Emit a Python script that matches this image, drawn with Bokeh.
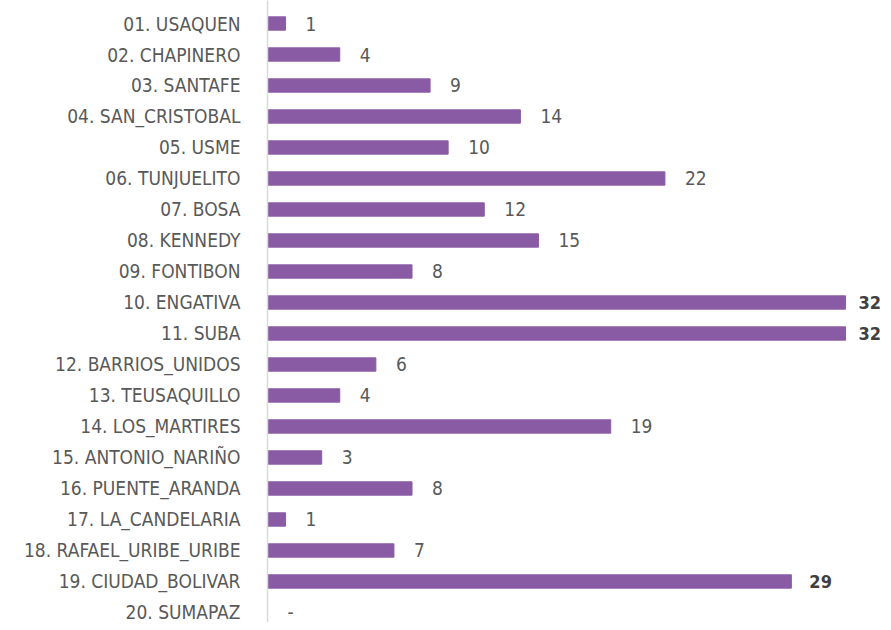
from bokeh.plotting import figure
from bokeh.models import Range1d, FixedTicker, ColumnDataSource
from bokeh.core.properties import value
from bokeh.embed import file_html
from bokeh.resources import INLINE

localidades = ["01. USAQUEN", "02. CHAPINERO", "03. SANTAFE", "04. SAN_CRISTOBAL", "05. USME",
               "06. TUNJUELITO", "07. BOSA", "08. KENNEDY", "09. FONTIBON", "10. ENGATIVA",
               "11. SUBA", "12. BARRIOS_UNIDOS", "13. TEUSAQUILLO", "14. LOS_MARTIRES",
               "15. ANTONIO_NARIÑO", "16. PUENTE_ARANDA", "17. LA_CANDELARIA",
               "18. RAFAEL_URIBE_URIBE", "19. CIUDAD_BOLIVAR", "20. SUMAPAZ"]
casos = [1, 4, 9, 14, 10, 22, 12, 15, 8, 32, 32, 6, 4, 19, 3, 8, 1, 7, 29, 0]

FONT = "'DejaVu Sans Condensed', Roboto"

idx = list(range(len(localidades)))
labels = [str(v) if v > 0 else "-" for v in casos]
bold = [v >= 29 for v in casos]

src_norm = ColumnDataSource(dict(y=[i for i in idx if not bold[i]],
                                 x=[casos[i] for i in idx if not bold[i]],
                                 t=[labels[i] for i in idx if not bold[i]]))
src_bold = ColumnDataSource(dict(y=[i for i in idx if bold[i]],
                                 x=[casos[i] for i in idx if bold[i]],
                                 t=[labels[i] for i in idx if bold[i]],
                                 off=[13 if casos[i] >= 32 else 18 for i in idx if bold[i]]))

p = figure(width=883, height=622, output_backend="svg", toolbar_location=None,
           x_range=Range1d(0, 34.1), y_range=Range1d(19.323, -0.742),
           min_border_left=267, min_border_right=0, min_border_top=0, min_border_bottom=0)
p.outline_line_color = None
p.xgrid.visible = False
p.ygrid.visible = False
p.xaxis.visible = False

p.hbar(y=idx, right=casos, left=0, height=0.43, color="#8A5BA5")

p.text(x="x", y="y", text="t", source=src_norm, x_offset=20, text_align="left",
       text_baseline="middle", text_font=value(FONT), text_font_size="19px", text_color="#595959")
p.text(x="x", y="y", text="t", source=src_bold, x_offset="off", text_align="left",
       text_baseline="middle", text_font=value(FONT), text_font_size="18px",
       text_font_style="bold", text_color="#404040")

ax = p.yaxis[0]
ax.ticker = FixedTicker(ticks=idx)
ax.major_label_overrides = {i: localidades[i] for i in idx}
ax.major_tick_line_color = None
ax.minor_tick_line_color = None
ax.axis_line_color = "#D9D9D9"
ax.axis_line_width = 1.5
ax.major_label_text_font = FONT
ax.major_label_text_font_size = "19px"
ax.major_label_text_color = "#595959"
ax.major_label_standoff = 21

open("out.html", "w").write(file_html(p, INLINE))
